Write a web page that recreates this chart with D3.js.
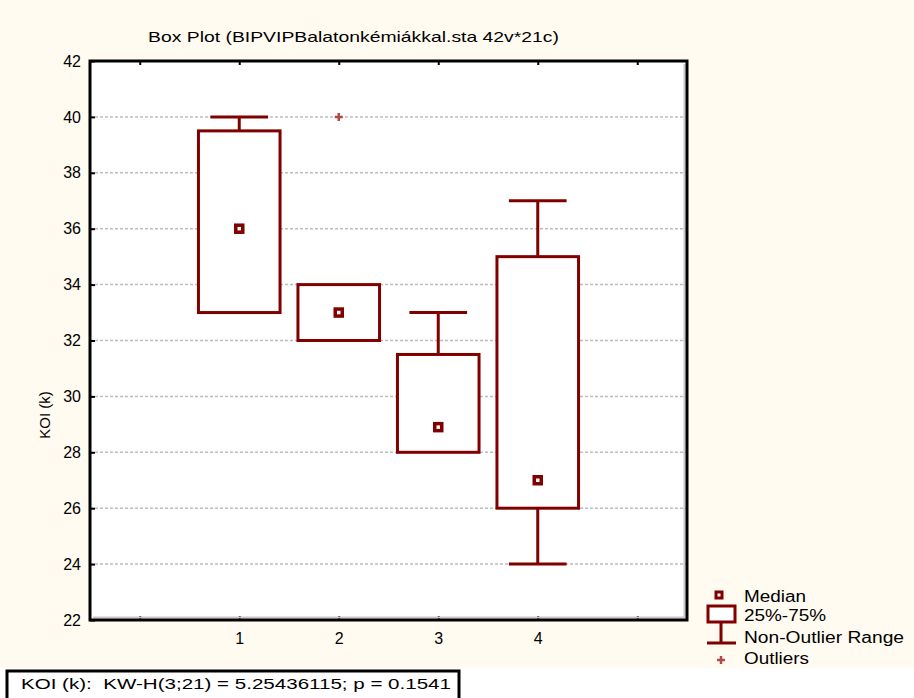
<!DOCTYPE html>
<html><head><meta charset="utf-8">
<script src="https://cdn.jsdelivr.net/npm/d3@7"></script>
<style>
html,body{margin:0;padding:0;background:#fffbf0;}
text{font-family:Arial,"Liberation Sans",sans-serif;fill:#000;}
</style></head>
<body><svg id="c" width="914" height="698"></svg>
<script>
const categories = [1, 2, 3, 4];
const medians   = [36, 33, 28.9, 27];
const q1        = [33, 32, 28, 26];
const q3        = [39.5, 34, 31.5, 35];
const whiskMin  = [33, 32, 28, 24];
const whiskMax  = [40, 34, 33, 37];
const outliers  = [{cat: 2, value: 40}];
const yTicks = [22, 24, 26, 28, 30, 32, 34, 36, 38, 40, 42];
const xTicks = [0, 1, 2, 3, 4, 5];
const legendLabels = ["Median", "25%-75%", "Non-Outlier Range", "Outliers"];
const title = "Box Plot (BIPVIPBalatonkémiákkal.sta 42v*21c)";
const yLabel = "KOI (k)";
const statText = "KOI (k):  KW-H(3;21) = 5.25436115; p = 0.1541";

const red = "#800000";
const svg = d3.select("#c");
const L = 90, T = 61, R = 687, B = 620;
const x = d3.scaleLinear().domain([-0.5, 5.5]).range([L, R]);
const y = d3.scaleLinear().domain([22, 42]).range([B, T]);

// white bottom strip
svg.append("rect").attr("x",0).attr("y",668).attr("width",914).attr("height",30).attr("fill","#fff");
// plot background
svg.append("rect").attr("x",L).attr("y",T).attr("width",R-L).attr("height",B-T).attr("fill","#fff");

// gridlines
svg.append("g").selectAll("line").data(yTicks.filter(d => d > 22 && d < 42)).join("line")
  .attr("x1", L).attr("x2", R).attr("y1", d => y(d)).attr("y2", d => y(d))
  .attr("stroke", "#bdbdbd").attr("stroke-width", 1.5).attr("stroke-dasharray", "3,2");

// axes
const yAxis = d3.axisLeft(y).tickValues(yTicks).tickSizeInner(-5).tickSizeOuter(0).tickPadding(9);
const gy = svg.append("g").attr("transform", `translate(${L},0)`).call(yAxis);
const xAxis = d3.axisBottom(x).tickValues(xTicks).tickSizeInner(-4).tickSizeOuter(0).tickPadding(13)
  .tickFormat(d => (d >= 1 && d <= 4) ? d : "");
const gx = svg.append("g").attr("transform", `translate(0,${B})`).call(xAxis);
const xTop = d3.axisTop(x).tickValues(xTicks).tickSizeInner(-4).tickSizeOuter(0).tickFormat("");
const gt = svg.append("g").attr("transform", `translate(0,${T})`).call(xTop);
[gy, gx, gt].forEach(g => {
  g.attr("font-size", 16).attr("font-family", "Arial, 'Liberation Sans', sans-serif");
  g.select(".domain").remove();
  g.selectAll(".tick line").attr("stroke", "#000").attr("stroke-width", 2);
  g.selectAll(".tick text").attr("font-size", 16).attr("fill", "#111");
});

// frame with inner shadow
svg.append("polyline").attr("points", `${L+3},${B-2.5} ${R-2.5},${B-2.5} ${R-2.5},${T+3}`)
  .attr("fill", "none").attr("stroke", "#c8c8c8").attr("stroke-width", 2);
svg.append("rect").attr("x", L).attr("y", T).attr("width", R-L).attr("height", B-T)
  .attr("fill", "none").attr("stroke", "#000").attr("stroke-width", 3);

// boxes
const boxHalf = 0.41, capHalf = 0.29;
const data = categories.map((c, i) => ({c, med: medians[i], q1: q1[i], q3: q3[i], lo: whiskMin[i], hi: whiskMax[i]}));
const gb = svg.append("g");
data.forEach(d => {
  const cx = x(d.c);
  if (d.hi > d.q3) {
    gb.append("line").attr("x1", cx).attr("x2", cx).attr("y1", y(d.q3)).attr("y2", y(d.hi)).attr("stroke", red).attr("stroke-width", 3);
    gb.append("line").attr("x1", x(d.c - capHalf)).attr("x2", x(d.c + capHalf)).attr("y1", y(d.hi)).attr("y2", y(d.hi)).attr("stroke", red).attr("stroke-width", 3);
  }
  if (d.lo < d.q1) {
    gb.append("line").attr("x1", cx).attr("x2", cx).attr("y1", y(d.q1)).attr("y2", y(d.lo)).attr("stroke", red).attr("stroke-width", 3);
    gb.append("line").attr("x1", x(d.c - capHalf)).attr("x2", x(d.c + capHalf)).attr("y1", y(d.lo)).attr("y2", y(d.lo)).attr("stroke", red).attr("stroke-width", 3);
  }
  gb.append("rect").attr("x", x(d.c - boxHalf)).attr("y", y(d.q3)).attr("width", x(d.c + boxHalf) - x(d.c - boxHalf))
    .attr("height", y(d.q1) - y(d.q3)).attr("fill", "#fff").attr("stroke", red).attr("stroke-width", 3);
  gb.append("rect").attr("x", cx - 3.5).attr("y", y(d.med) - 3.5).attr("width", 7).attr("height", 7)
    .attr("fill", "#fff").attr("stroke", red).attr("stroke-width", 3.5);
});
// outliers
outliers.forEach(o => {
  const px = x(o.cat), py = y(o.value);
  gb.append("path").attr("d", `M${px-4},${py}H${px+4}M${px},${py-4}V${py+4}`).attr("stroke", "#b04a4a").attr("stroke-width", 2.5);
});

// title
svg.append("text").attr("x", 148).attr("y", 42).attr("font-size", 15)
  .attr("textLength", 411).attr("lengthAdjust", "spacingAndGlyphs").text(title);
// y label
svg.append("text").attr("transform", "translate(50,415) rotate(-90)").attr("text-anchor", "middle")
  .attr("font-size", 15).text(yLabel);

// legend
const lg = svg.append("g");
lg.append("rect").attr("x", 716).attr("y", 592).attr("width", 6).attr("height", 6).attr("fill", "#fff").attr("stroke", red).attr("stroke-width", 3);
lg.append("rect").attr("x", 708).attr("y", 606).attr("width", 27).attr("height", 16).attr("fill", "#fff").attr("stroke", red).attr("stroke-width", 3);
lg.append("line").attr("x1", 721).attr("x2", 721).attr("y1", 622).attr("y2", 643).attr("stroke", red).attr("stroke-width", 3);
lg.append("line").attr("x1", 707).attr("x2", 736).attr("y1", 643).attr("y2", 643).attr("stroke", red).attr("stroke-width", 3);
lg.append("path").attr("d", "M717,660H725M721,656V664").attr("stroke", "#b04a4a").attr("stroke-width", 2.5);
const lgY = [602, 621, 643, 664];
const lgW = [62, 82, 160, 65];
legendLabels.forEach((t, i) => {
  lg.append("text").attr("x", 744).attr("y", lgY[i]).attr("font-size", 16)
    .attr("textLength", lgW[i]).attr("lengthAdjust", "spacingAndGlyphs").text(t);
});

// stat box
svg.append("rect").attr("x", 7).attr("y", 671).attr("width", 452).attr("height", 30)
  .attr("fill", "#fff").attr("stroke", "#000").attr("stroke-width", 3);
svg.append("text").attr("x", 21).attr("y", 689).attr("font-size", 15).style("white-space", "pre")
  .attr("textLength", 430).attr("lengthAdjust", "spacingAndGlyphs").text(statText);
</script></body></html>
